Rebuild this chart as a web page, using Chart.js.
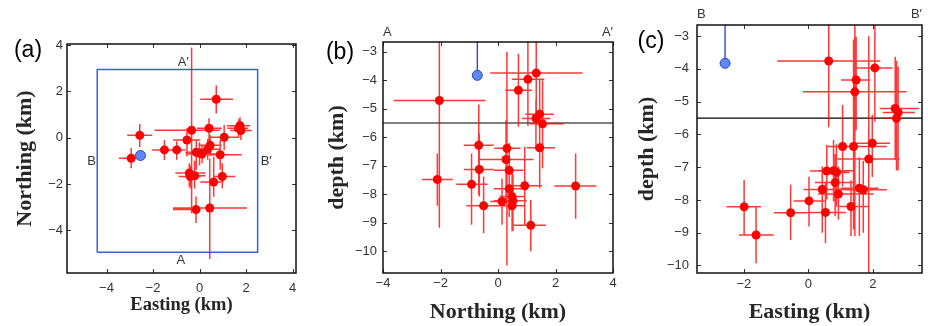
<!DOCTYPE html>
<html><head><meta charset="utf-8">
<script src="https://cdn.jsdelivr.net/npm/chart.js@4"></script>
<style>
html,body{margin:0;padding:0;background:#fff;width:928px;height:326px;overflow:hidden}
canvas{position:absolute;top:0}
</style></head><body>
<canvas id="ca" width="310" height="326" style="left:0px;width:310px;height:326px"></canvas>
<canvas id="cb" width="310" height="326" style="left:310px;width:310px;height:326px"></canvas>
<canvas id="cc" width="308" height="326" style="left:620px;width:308px;height:326px"></canvas>
<script>
// ---------- Panel (a): Easting vs Northing ----------
const aE   = [0.72,-2.57,-2.94,-1.51,-0.98,-0.54,-0.34,0.41,1.06,1.74,1.78,1.68,-0.14,0.00,0.11,0.35,0.46,0.89,-0.44,-0.40,-0.21,0.98,0.61,-0.15,0.44];
const aN   = [1.66,0.10,-0.89,-0.53,-0.53,-0.10,0.32,0.41,0.02,0.52,0.31,0.41,-0.63,-0.67,-0.71,-0.50,-0.33,-0.74,-1.53,-1.68,-1.65,-1.68,-1.92,-3.11,-3.04];
const aElo = [0.03,-3.11,-3.47,-2.04,-1.55,-1.14,-1.94,-0.11,0.46,1.18,1.32,1.20,-0.61,-0.45,-0.60,-0.15,-0.05,0.32,-1.04,-0.90,-0.60,0.61,0.03,-1.14,-1.14];
const aEhi = [1.44,-2.04,-2.54,-1.00,-0.60,0.03,0.89,0.96,1.68,2.18,2.25,2.10,0.32,0.40,0.95,0.90,0.95,1.82,0.25,0.05,0.25,1.54,1.04,0.03,2.04];
const aNlo = [1.05,-0.41,-1.32,-0.96,-0.95,-0.81,-3.27,-0.17,-0.53,0.12,-0.10,0.00,-1.39,-1.20,-1.10,-0.95,-0.80,-1.39,-2.11,-2.20,-2.20,-2.19,-2.55,-3.69,-5.25];
const aNhi = [2.26,0.59,-0.45,-0.10,-0.15,0.41,3.90,0.84,0.55,0.88,0.70,0.80,-0.10,-0.20,-0.30,-0.05,0.10,-0.10,-1.10,-1.20,-1.00,-1.11,-0.82,-2.54,-0.90];
const blueA = {x:-2.54, y:-0.77};
const rectE = [-4.4, 2.5];
const rectN = [-4.95, 2.95];
const aXTicks = [-4,-2,0,2,4];
const aYTicks = [-4,-2,0,2,4];
const aXRange = [-5.7, 4.15];
const aYRange = [-5.85, 4.05];

// ---------- Panel (b): Northing vs depth ----------
const bN   = [-2.04,1.33,1.04,0.71,1.45,1.32,1.55,-0.67,0.31,1.45,0.28,-0.65,0.39,-2.11,-0.92,0.93,2.70,0.39,0.49,0.52,0.14,-0.50,0.49,1.14];
const bD   = [-4.71,-3.75,-3.97,-4.35,-5.19,-5.34,-5.53,-6.28,-6.39,-6.37,-6.78,-7.13,-7.16,-7.48,-7.65,-7.70,-7.71,-7.81,-8.08,-8.23,-8.25,-8.40,-8.40,-9.09];
const bNlo = [-3.63,-0.27,0.49,0.25,0.95,0.83,1.12,-1.19,-0.13,1.00,-0.64,-1.19,-0.15,-2.64,-1.45,0.43,1.96,-0.15,0.05,-0.15,-0.27,-1.10,0.05,0.54];
const bNhi = [-0.44,2.94,1.61,1.18,1.94,1.82,2.28,-0.15,0.78,1.99,1.24,-0.15,0.89,-1.57,-0.36,1.53,3.42,1.00,0.95,1.00,0.54,0.43,0.95,1.67];
const bDlo = [-9.17,-5.60,-5.60,-5.63,-7.09,-6.45,-7.09,-8.02,-10.50,-7.79,-8.20,-8.08,-8.20,-8.40,-9.07,-9.07,-8.86,-8.80,-9.00,-9.30,-9.07,-9.37,-9.30,-10.00];
const bDhi = [-2.00,-2.00,-2.00,-3.07,-3.95,-4.70,-4.00,-4.85,-3.00,-5.17,-5.40,-5.87,-6.20,-6.57,-6.57,-6.33,-6.57,-7.00,-7.20,-7.30,-7.45,-7.38,-7.50,-8.20];
const blueB = {x:-0.72, y:-3.83};
const bXTicks = [-4,-2,0,2,4];
const bYTicks = [-3,-4,-5,-6,-7,-8,-9,-10];
const bXRange = [-4, 4];
const bYRange = [-10.76, -2.66];

// ---------- Panel (c): Easting vs depth ----------
const cE   = [0.63,2.06,1.48,1.44,2.69,2.78,2.73,1.06,1.40,1.98,1.87,0.57,0.78,0.87,0.83,0.43,0.93,1.58,1.70,0.02,-1.99,-0.55,0.53,1.32,-1.62];
const cD   = [-3.76,-3.97,-4.34,-4.70,-5.21,-5.33,-5.51,-6.37,-6.37,-6.27,-6.75,-7.12,-7.11,-7.16,-7.47,-7.68,-7.82,-7.64,-7.69,-8.03,-8.21,-8.39,-8.38,-8.20,-9.07];
const cElo = [-0.97,1.47,1.01,-0.17,2.21,2.30,2.35,0.60,0.91,1.42,0.91,0.05,0.30,0.50,0.20,-0.15,0.30,1.00,1.11,-0.46,-2.54,-1.07,-0.05,0.95,-2.15];
const cEhi = [2.23,2.61,1.92,3.04,3.44,3.30,2.85,1.62,2.43,2.53,2.83,1.16,1.42,1.27,1.47,1.11,2.02,2.17,2.43,0.50,-1.47,-0.05,1.16,1.87,-1.07];
const cDlo = [-5.78,-5.61,-5.87,-9.10,-6.78,-7.09,-7.10,-7.59,-8.90,-7.30,-10.30,-7.99,-8.05,-8.20,-8.50,-9.00,-8.60,-9.10,-9.00,-8.81,-9.07,-9.22,-9.32,-9.10,-9.93];
const cDhi = [-2.00,-2.00,-3.02,-2.00,-3.63,-3.93,-3.75,-5.10,-3.10,-5.40,-3.00,-6.32,-6.17,-6.30,-6.60,-6.98,-6.98,-6.70,-6.80,-7.29,-7.39,-7.54,-7.49,-7.40,-8.20];
const blueC = {x:-2.58, y:-3.83};
const cXTicks = [-2,0,2];
const cYTicks = [-3,-4,-5,-6,-7,-8,-9,-10];
const cXRange = [-3.45, 3.52];
const cYRange = [-10.23, -2.66];

const blueTop = -2.0;      // upper end of the blue marker's bar in depth panels
const depthLine = -5.5;    // horizontal reference depth

// ---------- helpers ----------
const SANS = '"Liberation Sans", Arial, Helvetica, sans-serif';
const SERIF = '"Liberation Serif", "Times New Roman", serif';
const RED = '#ff0000';
const ERR = 'rgba(255,0,0,0.78)';
const BLUE_FILL = 'rgb(95,135,245)';
const BLUE_EDGE = 'rgb(40,70,200)';
const fmt = v => (v < 0 ? '\u2212' + Math.abs(v) : String(v));

function errData(xs, ys, xlo, xhi, ylo, yhi) {
  const pts = [];
  xs.forEach((x, i) => {
    pts.push({x: xlo[i], y: ys[i]}, {x: xhi[i], y: ys[i]}, {x: x, y: null});
    pts.push({x: x, y: ylo[i]}, {x: x, y: yhi[i]}, {x: x, y: null});
  });
  return pts;
}
function pts(xs, ys) { return xs.map((x, i) => ({x: x, y: ys[i]})); }

const framePlugin = {
  id: 'frame',
  afterDraw(chart, args, opts) {
    const {ctx, chartArea: a} = chart;
    const xs = chart.scales.x, ys = chart.scales.y;
    ctx.save();
    ctx.strokeStyle = '#333'; ctx.lineWidth = 1;
    ctx.beginPath();
    xs.ticks.forEach(t => {
      const p = Math.round(xs.getPixelForValue(t.value)) + 0.5;
      ctx.moveTo(p, a.bottom); ctx.lineTo(p, a.bottom - 4);
      ctx.moveTo(p, a.top); ctx.lineTo(p, a.top + 4);
    });
    ys.ticks.forEach(t => {
      const p = Math.round(ys.getPixelForValue(t.value)) + 0.5;
      ctx.moveTo(a.left, p); ctx.lineTo(a.left + 4, p);
      ctx.moveTo(a.right, p); ctx.lineTo(a.right - 4, p);
    });
    ctx.stroke();
    ctx.strokeStyle = '#111'; ctx.lineWidth = 1.5;
    ctx.strokeRect(a.left, a.top, a.right - a.left, a.bottom - a.top);
    ctx.fillStyle = '#000';
    ctx.font = '23px ' + SANS; ctx.textAlign = 'center'; ctx.textBaseline = 'middle';
    ctx.fillText(opts.panel.text, opts.panel.cx, opts.panel.cy);
    (opts.labels || []).forEach(l => {
      ctx.font = '13px ' + SANS; ctx.fillStyle = '#333';
      let x, y;
      if (l.data) { x = xs.getPixelForValue(l.x); y = ys.getPixelForValue(l.y); ctx.textAlign = 'center'; }
      else { x = l.side === 'left' ? a.left : a.right; y = a.top - l.dy; ctx.textAlign = l.side === 'left' ? 'left' : 'right'; }
      ctx.fillText(l.text, x, y);
    });
    ctx.restore();
  }
};

function panel(id, o) {
  return new Chart(document.getElementById(id), {
    type: 'scatter',
    data: {datasets: o.datasets},
    options: {
      responsive: false, animation: false, devicePixelRatio: 1,
      layout: {padding: {left: 0, top: o.padTop, right: o.padRight, bottom: 0}},
      plugins: {legend: {display: false}, tooltip: {enabled: false},
        frame: {labels: o.labels, panel: o.panel}},
      scales: {
        x: {type: 'linear', min: o.xr[0], max: o.xr[1],
          grid: {display: false, drawTicks: false}, border: {display: false},
          afterBuildTicks: s => { s.ticks = o.xt.map(v => ({value: v})); },
          afterFit: s => { s.height = o.xH; },
          ticks: {color: '#333', font: {family: SANS, size: 13}, padding: o.xTickPad, callback: fmt, maxRotation: 0},
          title: {display: true, text: o.xTitle, color: '#262626',
            font: {family: SERIF, size: o.xTS, weight: 'bold'}, padding: {top: 0, bottom: o.xTP}}},
        y: {type: 'linear', min: o.yr[0], max: o.yr[1],
          grid: {display: false, drawTicks: false}, border: {display: false},
          afterBuildTicks: s => { s.ticks = o.yt.map(v => ({value: v})); },
          afterFit: s => { s.width = o.yW; },
          ticks: {color: '#333', font: {family: SANS, size: 13}, padding: o.yTickPad, callback: fmt},
          title: {display: true, text: o.yTitle, color: '#262626',
            font: {family: SERIF, size: o.yTS, weight: 'bold'}, padding: {top: o.yTP, bottom: 0}}}
      }
    },
    plugins: [framePlugin]
  });
}

const dotDS = (data) => ({data, backgroundColor: RED, borderWidth: 0, pointRadius: 4.5, order: 1});
const blueDS = (p) => ({data: [p], backgroundColor: BLUE_FILL, borderColor: BLUE_EDGE, borderWidth: 1, pointRadius: 5, order: 0});
const errDS = (data) => ({data, showLine: true, spanGaps: false, borderColor: ERR, borderWidth: 1.5, pointRadius: 0, order: 2});
const lineDS = (data, color, w, order) => ({data, showLine: true, borderColor: color, borderWidth: w, pointRadius: 0, order});

// (a)
panel('ca', {
  xr: aXRange, yr: aYRange, xt: aXTicks, yt: aYTicks,
  padTop: 44, padRight: 14, yW: 67, xH: 53,
  xTickPad: 8, yTickPad: 4,
  xTitle: 'Easting (km)', xTS: 18.5, xTP: 10,
  yTitle: 'Northing (km)', yTS: 22, yTP: 12,
  panel: {text: '(a)', cx: 28, cy: 51},
  labels: [
    {data: true, text: 'A\u2032', x: -0.7, y: 3.27},
    {data: true, text: 'A', x: -0.8, y: -5.31},
    {data: true, text: 'B', x: -4.64, y: -1.04},
    {data: true, text: 'B\u2032', x: 2.87, y: -1.04}
  ],
  datasets: [
    blueDS(blueA),
    dotDS(pts(aE, aN)),
    errDS(errData(aE, aN, aElo, aEhi, aNlo, aNhi)),
    lineDS([{x: rectE[0], y: rectN[0]}, {x: rectE[1], y: rectN[0]}, {x: rectE[1], y: rectN[1]},
            {x: rectE[0], y: rectN[1]}, {x: rectE[0], y: rectN[0]}], '#3461e6', 1.5, 3)
  ]
});

// (b)
panel('cb', {
  xr: bXRange, yr: bYRange, xt: bXTicks, yt: bYTicks,
  padTop: 42, padRight: 7, yW: 73, xH: 53,
  xTickPad: 3, yTickPad: 6,
  xTitle: 'Northing (km)', xTS: 22, xTP: 0,
  yTitle: 'depth (km)', yTS: 22, yTP: 14,
  panel: {text: '(b)', cx: 30, cy: 53},
  labels: [
    {text: 'A', side: 'left', dy: 10},
    {text: 'A\u2032', side: 'right', dy: 10}
  ],
  datasets: [
    blueDS(blueB),
    dotDS(pts(bN, bD)),
    lineDS([{x: blueB.x, y: blueB.y}, {x: blueB.x, y: blueTop}], 'rgb(30,60,230)', 1.3, 2),
    errDS(errData(bN, bD, bNlo, bNhi, bDlo, bDhi)),
    lineDS([{x: bXRange[0], y: depthLine}, {x: bXRange[1], y: depthLine}], '#000', 1.2, 3)
  ]
});

// (c)
panel('cc', {
  xr: cXRange, yr: cYRange, xt: cXTicks, yt: cYTicks,
  padTop: 25, padRight: 2, yW: 77, xH: 53,
  xTickPad: 4, yTickPad: 8,
  xTitle: 'Easting (km)', xTS: 22, xTP: 0,
  yTitle: 'depth (km)', yTS: 22, yTP: 14,
  panel: {text: '(c)', cx: 31, cy: 42},
  labels: [
    {text: 'B', side: 'left', dy: 11},
    {text: 'B\u2032', side: 'right', dy: 11}
  ],
  datasets: [
    blueDS(blueC),
    dotDS(pts(cE, cD)),
    lineDS([{x: blueC.x, y: blueC.y}, {x: blueC.x, y: blueTop}], 'rgb(30,60,230)', 1.3, 2),
    errDS(errData(cE, cD, cElo, cEhi, cDlo, cDhi)),
    lineDS([{x: cXRange[0], y: depthLine}, {x: cXRange[1], y: depthLine}], '#000', 1.2, 3)
  ]
});
</script>
</body></html>
